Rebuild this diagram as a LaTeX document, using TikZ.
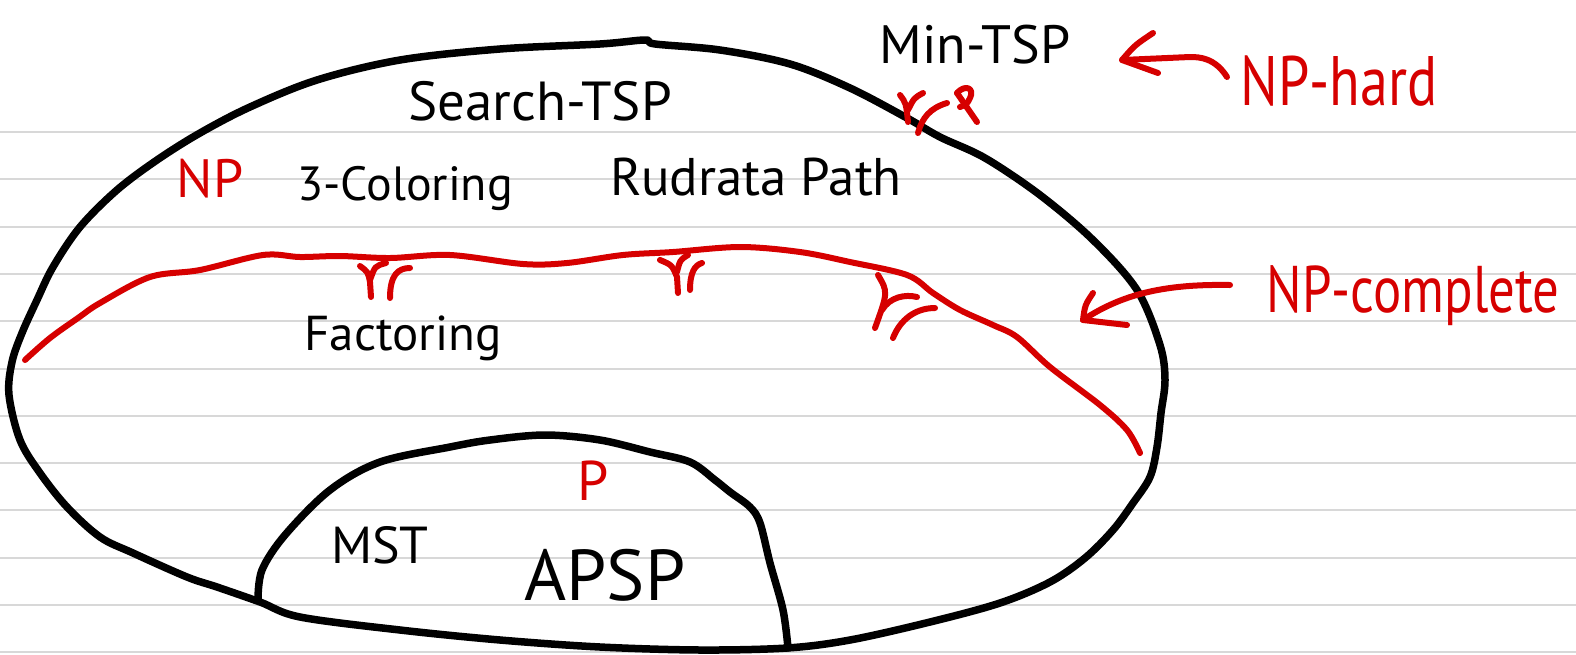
\documentclass[tikz,border=0pt]{standalone}
\usepackage{fontspec}
\setmainfont{PT Sans}
\newfontfamily\tallfont[FakeStretch=0.8]{PT Sans}
\definecolor{marker}{RGB}{214,0,0}
\definecolor{ruling}{RGB}{216,216,216}

\begin{document}
\begin{tikzpicture}[x=1pt,y=-1pt,
  pen/.style={line width=7.5pt,line cap=round,line join=round},
  redpen/.style={line width=6pt,line cap=round,line join=round,marker},
  word/.style={anchor=base,inner sep=0pt,font=\fontsize{#1}{#1}\selectfont},
  redword/.style={word=#1,text=marker},
  tallword/.style={anchor=base,inner sep=0pt,text=marker,
    font=\tallfont\fontsize{#1}{#1}\selectfont}]
\fill[white] (0,0) rectangle (1576,654);
\useasboundingbox (0,0) rectangle (1576,654);
% notebook paper
\foreach \k in {0,...,11}
  \draw[ruling,line width=2pt] (0,{132+47.3*\k}) -- (1576,{132+47.3*\k});

% NP
\draw[pen] plot[smooth cycle,tension=0.55] coordinates {
  (9,395) (12,362) (22,333) (37,300) (53,267) (80,227) (117,190) (157,160)
  (200,133) (250,107) (317,80) (400,60) (500,49) (600,44) (645,40) (655,44)
  (720,50) (790,64) (850,88) (907,118) (940,137) (985,158) (1040,195)
  (1093,240) (1137,290) (1160,345) (1165,380) (1161,413) (1157,447)
  (1150,477) (1133,503) (1113,530) (1085,558) (1050,582) (1000,603)
  (930,622) (850,640) (787,648) (700,650) (600,647) (500,640) (400,630)
  (300,617) (260,602) (217,587) (187,577) (133,553) (100,537) (67,507)
  (40,473) (20,440)};
% P
\draw[pen] plot[smooth,tension=0.55] coordinates {
  (258,600) (262,570) (285,535) (330,490) (380,462) (450,447) (490,440)
  (545,435) (600,440) (650,452) (690,462) (715,480) (730,492) (750,507)
  (760,523) (770,563) (783,610) (788,648)};
% NP-complete border
\draw[redpen] plot[smooth,tension=0.55] coordinates {
  (25,360) (50,338) (78,318) (100,303) (150,277) (200,270) (263,255)
  (300,257) (340,256) (390,258) (450,255) (523,264) (567,263) (623,255)
  (673,252) (740,247) (800,252) (850,262) (907,275) (933,293) (960,310)
  (993,325) (1017,337) (1050,367) (1100,405) (1127,430) (1140,453)};

% reduction marks
\draw[redpen] (360,266) .. controls (368,272) .. (370,282) -- (371,297);
\draw[redpen] (386,263) .. controls (375,266) .. (370,280);
\draw[redpen] (390,298) .. controls (390,275) and (398,268) .. (410,268);
\draw[redpen] (660,260) .. controls (672,265) .. (677,277) -- (678,293);
\draw[redpen] (688,255) .. controls (680,260) .. (677,272);
\draw[redpen] (690,290) .. controls (690,272) and (695,265) .. (702,263);
\draw[redpen] (878,275) .. controls (888,292) .. (875,328);
\draw[redpen] (882,310) .. controls (890,297) and (905,294) .. (917,297);
\draw[redpen] (893,338) .. controls (900,320) and (915,308) .. (935,308);
\draw[redpen] (900,95) .. controls (906,103) .. (908,122);
\draw[redpen] (923,93) .. controls (914,98) .. (908,110);
\draw[redpen] (918,133) .. controls (922,118) and (930,108) .. (947,103);
\draw[redpen] (957,93) -- (977,122);
\draw[redpen] (957,93) .. controls (965,84) and (975,88) .. (970,98)
  .. controls (967,104) .. (960,107);

% problems
\node[word=54] (mintsp) at (975,63) {Min-TSP};
\node[word=55] (searchtsp) at (540,120) {Search-TSP};
\node[redword=54] (np) at (210,197) {NP};
\node[word=48] (coloring) at (405,200) {3-Coloring};
\node[word=53] (rudrata) at (756,195) {Rudrata Path};
\node[word=49] (factoring) at (403,350) {Factoring};
\node[redword=56] (p) at (593,500) {P};
\node[word=52] (mst) at (380,563) {MST};
\node[word=72] (apsp) at (605,600) {APSP};
\node[tallword=70] (nphard) at (1339,105) {NP-hard};
\node[tallword=66] (npcomplete) at (1413,312) {NP-complete};

% arrows
\coordinate (hardtail) at (1227,77);
\coordinate (hardtip) at (1122,60);
\draw[redpen] (hardtail) .. controls (1215,58) and (1200,57) .. (1190,57)
  -- (hardtip);
\draw[redpen] (1153,33) .. controls (1135,45) .. (hardtip)
  .. controls (1140,66) .. (1158,73);
\coordinate (comptail) at (1230,285);
\coordinate (comptip) at (1083,320);
\draw[redpen] (comptail) .. controls (1170,284) and (1125,292) .. (comptip);
\draw[redpen] (1093,293) .. controls (1085,305) .. (comptip)
  .. controls (1105,322) .. (1127,325);
\end{tikzpicture}
\end{document}
